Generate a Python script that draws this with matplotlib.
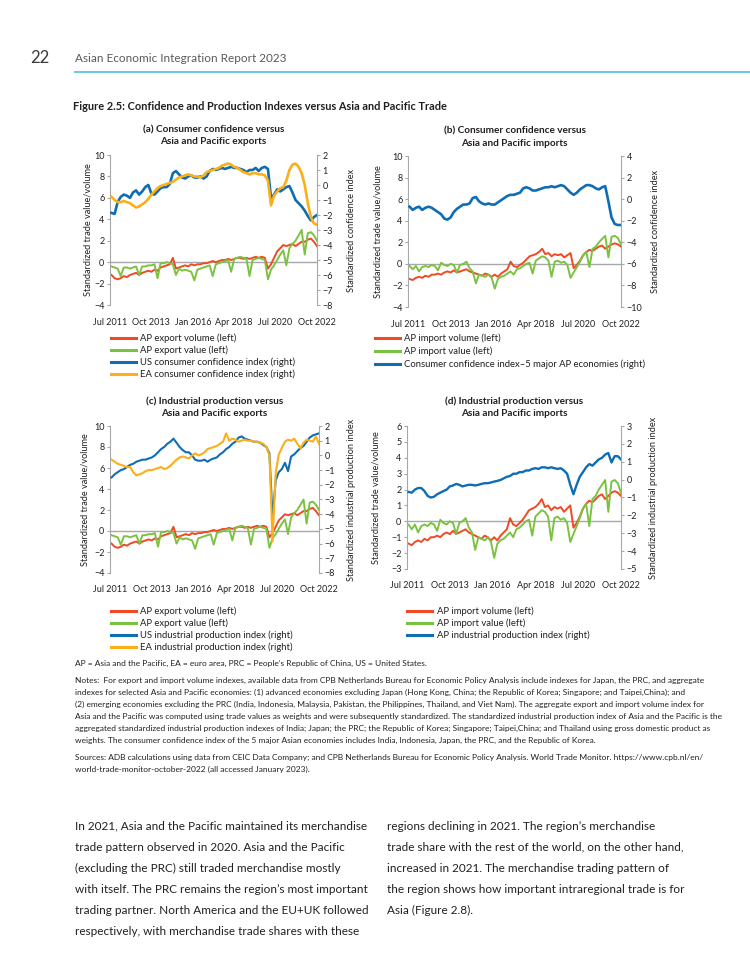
import numpy as np
import matplotlib.pyplot as plt
from matplotlib.lines import Line2D

plt.rcParams['font.family'] = ['Lato', 'DejaVu Sans']

W, H = 750, 971

# --- data: every second month since Jul 2011 (Aug 2011 ... Oct 2022) ---
months = np.arange(1, 136, 2)
tick_pos = [0, 27, 54, 81, 108, 135]
tick_labels = ["Jul 2011", "Oct 2013", "Jan 2016", "Apr 2018", "Jul 2020", "Oct 2022"]

ap_export_volume = [
    -1.2, -1.5, -1.6, -1.5, -1.3, -1.4, -1.2, -1.1, -1.0, -1.2,
    -1.0, -0.9, -0.8, -0.9, -0.7, -0.8, -0.5, -0.4, -0.3, -0.2,
    0.4, -0.6, -0.5, -0.4, -0.3, -0.4, -0.2, -0.3, -0.2, -0.2,
    -0.1, -0.1, 0.0, 0.1, 0.0, 0.1, 0.2, 0.2, 0.3, 0.2,
    0.3, 0.4, 0.4, 0.3, 0.4, 0.3, 0.4, 0.5, 0.4, 0.5,
    0.4, -0.6, -0.2, 0.4, 1.0, 1.3, 1.6, 1.5, 1.6, 1.7,
    1.5, 1.7, 1.9, 1.9, 2.1, 2.2, 1.9, 1.5]
ap_export_value = [
    -0.4, -0.5, -0.6, -1.3, -0.5, -0.5, -0.6, -0.5, -0.4, -1.2,
    -0.4, -0.4, -0.3, -0.3, -0.2, -1.5, -0.1, -0.1, 0.0, -0.1,
    -0.2, -1.2, -0.6, -0.8, -0.7, -0.8, -0.9, -1.7, -0.7, -0.6,
    -0.5, -0.4, -0.3, -1.3, -0.2, -0.1, 0.0, 0.1, 0.2, -0.9,
    0.3, 0.4, 0.5, 0.4, 0.3, -1.3, 0.2, 0.3, 0.4, 0.3,
    0.2, -1.6, -0.7, -0.3, 0.2, 0.7, 1.1, -0.3, 1.3, 1.7,
    2.0, 2.5, 3.0, 0.7, 2.7, 2.8, 2.5, 2.0]
ap_import_volume = [
    -1.4, -1.5, -1.3, -1.2, -1.3, -1.1, -1.2, -1.0, -1.0, -0.9,
    -1.0, -0.8, -0.7, -0.8, -0.6, -0.8, -0.7, -0.6, -0.5, -0.7,
    -0.8, -0.9, -1.0, -1.1, -0.9, -1.0, -1.2, -1.0, -1.2, -0.9,
    -0.7, -0.5, 0.2, -0.2, -0.3, -0.1, 0.1, 0.4, 0.7, 0.8,
    0.9, 1.1, 1.4, 0.9, 1.0, 0.7, 0.9, 0.8, 0.9, 0.6,
    0.8, 1.0, -0.4, -0.1, 0.3, 0.8, 1.1, 1.3, 1.2, 1.4,
    1.6, 1.7, 1.4, 1.6, 1.8, 1.9, 1.8, 1.6]
ap_import_value = [
    -0.2, -0.5, -0.2, -0.7, -0.3, -0.2, -0.3, -0.1, -0.2, -0.6,
    0.1, -0.1, -0.2, 0.0, -0.1, -0.8, -0.1, 0.0, 0.2, -0.4,
    -0.7, -1.8, -1.0, -1.1, -1.2, -1.0, -1.3, -2.3, -1.4, -1.2,
    -1.1, -0.9, -0.7, -1.0, -0.5, -0.4, -0.2, 0.0, 0.1, -0.9,
    0.3, 0.5, 0.7, 0.6, 0.3, -1.2, 0.2, 0.3, 0.1, 0.2,
    -0.1, -1.3, -0.8, -0.3, 0.2, 0.8, 1.1, -0.3, 1.4, 1.6,
    2.0, 2.3, 2.6, 0.6, 2.5, 2.6, 2.4, 1.8]

us_confidence = [
    -1.86, -1.93, -1.14, -0.79, -0.64, -0.71, -0.86, -0.50, -0.36, -0.64,
    -0.43, -0.14, 0.00, -0.57, -0.64, -0.43, -0.21, -0.14, -0.14, 0.07,
    0.79, 0.93, 0.71, 0.50, 0.43, 0.57, 0.64, 0.50, 0.50, 0.57,
    0.43, 0.57, 0.93, 1.07, 1.00, 1.07, 1.14, 1.07, 1.14, 1.21,
    1.14, 1.14, 1.07, 1.00, 0.86, 1.00, 1.00, 1.14, 0.93, 1.14,
    1.21, 1.07, -0.86, -0.64, -0.29, -0.43, -0.29, -0.14, -0.07, -0.50,
    -1.00, -1.21, -1.43, -1.71, -2.07, -2.36, -2.14, -2.00]
ea_confidence = [
    -0.79, -1.00, -1.14, -1.14, -1.07, -1.14, -1.21, -1.36, -1.50, -1.43,
    -1.29, -1.14, -0.93, -0.64, -0.43, -0.21, -0.07, 0.00, 0.07, 0.14,
    0.21, 0.36, 0.50, 0.57, 0.64, 0.71, 0.64, 0.57, 0.57, 0.50,
    0.64, 0.86, 0.93, 1.00, 1.07, 1.14, 1.29, 1.36, 1.43, 1.36,
    1.21, 1.14, 1.00, 0.86, 0.79, 0.71, 0.79, 0.79, 0.71, 0.71,
    0.64, 0.29, -1.36, -0.71, -0.43, -0.21, -0.14, 0.29, 1.00, 1.36,
    1.43, 1.21, 0.79, 0.00, -1.21, -2.14, -2.57, -2.64]
ap_confidence = [
    -0.7, -1.0, -0.8, -0.7, -1.0, -0.8, -0.7, -0.8, -1.0, -1.2,
    -1.4, -1.8, -1.9, -1.7, -1.2, -0.9, -0.7, -0.5, -0.5, -0.4,
    0.1, 0.2, -0.2, -0.4, -0.5, -0.4, -0.5, -0.5, -0.3, -0.1,
    0.1, 0.3, 0.4, 0.4, 0.5, 0.6, 1.0, 1.1, 1.0, 0.8,
    0.8, 0.9, 1.0, 1.1, 1.1, 1.2, 1.1, 1.2, 1.3, 1.2,
    0.9, 0.6, 0.4, 0.6, 0.9, 1.1, 1.3, 1.3, 1.2, 1.0,
    0.9, 1.1, 1.2, -0.2, -1.7, -2.3, -2.4, -2.4]

us_ip = [
    -1.50, -1.29, -1.14, -1.00, -0.93, -0.79, -0.64, -0.57, -0.43, -0.36,
    -0.29, -0.29, -0.21, -0.14, 0.00, 0.21, 0.43, 0.57, 0.79, 0.93,
    1.14, 0.86, 0.57, 0.36, 0.21, 0.21, 0.00, -0.29, -0.36, -0.36,
    -0.29, -0.43, -0.29, -0.21, -0.14, 0.07, 0.21, 0.43, 0.57, 0.79,
    0.93, 1.21, 1.29, 1.14, 1.07, 1.00, 0.93, 0.93, 0.86, 0.71,
    0.57, 0.14, -4.29, -1.71, -1.14, -0.93, -0.50, -1.07, -0.07, 0.07,
    0.29, 0.50, 0.64, 0.93, 1.21, 1.36, 1.43, 1.50]
ea_ip = [
    -0.29, -0.43, -0.57, -0.64, -0.71, -0.79, -0.79, -1.14, -1.36, -1.29,
    -1.21, -1.07, -1.00, -1.00, -0.93, -0.86, -0.79, -0.93, -0.86, -0.71,
    -0.50, -0.29, -0.14, -0.07, -0.14, -0.21, 0.00, 0.14, 0.00, 0.07,
    0.21, 0.43, 0.50, 0.57, 0.64, 0.79, 0.93, 1.50, 1.00, 1.14,
    1.07, 0.93, 1.00, 1.07, 1.00, 1.00, 0.93, 0.93, 0.86, 0.79,
    0.57, 0.00, -5.86, -1.21, 0.07, 0.50, 0.93, 1.07, 1.00, 1.14,
    0.79, 0.50, 0.86, 1.07, 1.00, 0.93, 1.29, 0.79]
ap_ip = [
    -0.69, -0.73, -0.56, -0.47, -0.47, -0.64, -0.91, -1.00, -0.96, -0.82,
    -0.73, -0.64, -0.56, -0.38, -0.33, -0.24, -0.29, -0.38, -0.33, -0.29,
    -0.29, -0.33, -0.29, -0.24, -0.20, -0.20, -0.16, -0.11, -0.07, -0.02,
    0.07, 0.16, 0.20, 0.33, 0.33, 0.42, 0.42, 0.51, 0.51, 0.60,
    0.64, 0.60, 0.69, 0.69, 0.64, 0.69, 0.64, 0.60, 0.64, 0.51,
    0.33, -0.29, -0.82, -0.29, 0.16, 0.42, 0.69, 0.87, 0.78, 0.96,
    1.13, 1.22, 1.40, 1.49, 0.96, 1.31, 1.31, 1.13]

# --- styles ---
RED = "#ef4a24"
GREEN = "#7cc242"
BLUE = "#0e6db5"
ORANGE = "#fbaf18"
GRAY = "#a6a8ab"
TXT = "#231f20"

fig = plt.figure(figsize=(W / 100, H / 100), dpi=100)
fig.patch.set_facecolor("white")
renderer = fig.canvas.get_renderer()


def fx(x):
    return x / W


def fy(y):
    return 1 - y / H


def fit(s, width, weight="normal"):
    # font size that makes s about `width` pixels wide
    t = fig.text(0, 0, s, fontsize=10, fontweight=weight)
    w = t.get_window_extent(renderer).width
    t.remove()
    return 10 * width / w


tick_fs = fit("Oct 2022", 38)
ylab_fs = fit("Standardized trade value/volume", 133)
title_fs = fit("(a) Consumer confidence versus", 142, "bold")
leg_fs = fit("US consumer confidence index (right)", 157)


def draw_panel(box, title, left, right, lim_l, step_l, lim_r, step_r,
               ylab_l, ylab_r, lab_x, legend, lw_r):
    l, t, r, b = box
    ax = fig.add_axes([fx(l), fy(b), (r - l) / W, (b - t) / H])
    ax2 = ax.twinx()

    ax.axhline(0, color=GRAY, lw=1.0, zorder=1)
    for vals, col in left:
        ax.plot(months, vals, color=col, lw=1.4, zorder=2)
    for vals, col in right:
        ax2.plot(months, vals, color=col, lw=lw_r, zorder=2)

    ax.set_xlim(0, 135)
    ax.set_ylim(*lim_l)
    ax.set_yticks(np.arange(lim_l[0], lim_l[1] + 0.1, step_l))
    ax2.set_ylim(*lim_r)
    ax2.set_yticks(np.arange(lim_r[0], lim_r[1] + 0.1, step_r))
    ax.set_xticks(tick_pos)
    ax.set_xticklabels(tick_labels)

    for a in (ax, ax2):
        for sp in a.spines.values():
            sp.set_visible(False)
        a.tick_params(axis="y", direction="out", length=2.5, width=0.8,
                      color=GRAY, labelsize=tick_fs, labelcolor=TXT, pad=1.5)
    ax.spines["left"].set_visible(True)
    ax.spines["left"].set_color(GRAY)
    ax2.spines["right"].set_visible(True)
    ax2.spines["right"].set_color(GRAY)
    ax.tick_params(axis="x", length=0, labelsize=tick_fs, labelcolor=TXT, pad=9)

    cx = (l + r) / 2
    cy = (t + b) / 2
    for i, line in enumerate(title):
        fig.text(fx(cx), fy(t - 25 + 12 * i), line, fontsize=title_fs,
                 fontweight="bold", color=TXT, ha="center", va="center")
    fig.text(fx(lab_x[0]), fy(cy), ylab_l, rotation=90, fontsize=ylab_fs,
             color=TXT, ha="center", va="center")
    fig.text(fx(lab_x[1]), fy(cy), ylab_r, rotation=90, fontsize=ylab_fs,
             color=TXT, ha="center", va="center")

    x0, x1, tx, ys = legend["pos"]
    for (lab, col), yy in zip(legend["items"], ys):
        fig.add_artist(Line2D([fx(x0), fx(x1)], [fy(yy), fy(yy)], color=col, lw=2.2))
        fig.text(fx(tx), fy(yy), lab, fontsize=leg_fs, color=TXT,
                 ha="left", va="center")
    return ax


draw_panel((110, 155, 317, 305),
           ["(a) Consumer confidence versus", "Asia and Pacific exports"],
           [(ap_export_volume, RED), (ap_export_value, GREEN)],
           [(us_confidence, BLUE), (ea_confidence, ORANGE)],
           (-4, 10), 2, (-8, 2), 1,
           "Standardized trade value/volume", "Standardized confidence index",
           (88, 352),
           {"pos": (111, 136, 140, [338, 350, 362, 374]),
            "items": [("AP export volume (left)", RED),
                      ("AP export value (left)", GREEN),
                      ("US consumer confidence index (right)", BLUE),
                      ("EA consumer confidence index (right)", ORANGE)]},
           1.9)

draw_panel((408, 156, 621, 307),
           ["(b) Consumer confidence versus", "Asia and Pacific imports"],
           [(ap_import_volume, RED), (ap_import_value, GREEN)],
           [(ap_confidence, BLUE)],
           (-4, 10), 2, (-10, 4), 2,
           "Standardized trade value/volume", "Standardized confidence index",
           (378, 656),
           {"pos": (375, 400, 404, [338, 351, 364]),
            "items": [("AP import volume (left)", RED),
                      ("AP import value (left)", GREEN),
                      ("Consumer confidence index\u20135 major AP economies (right)", BLUE)]},
           1.9)

draw_panel((110, 426, 319, 573),
           ["(c) Industrial production versus", "Asia and Pacific exports"],
           [(ap_export_volume, RED), (ap_export_value, GREEN)],
           [(us_ip, BLUE), (ea_ip, ORANGE)],
           (-4, 10), 2, (-8, 2), 1,
           "Standardized trade value/volume", "Standardized industrial production index",
           (85, 352),
           {"pos": (111, 136, 140, [611, 623, 635, 647]),
            "items": [("AP export volume (left)", RED),
                      ("AP export value (left)", GREEN),
                      ("US industrial production index (right)", BLUE),
                      ("EA industrial production index (right)", ORANGE)]},
           1.5)

draw_panel((407, 426, 621, 569),
           ["(d) Industrial production versus", "Asia and Pacific imports"],
           [(ap_import_volume, RED), (ap_import_value, GREEN)],
           [(ap_ip, BLUE)],
           (-3, 6), 1, (-5, 3), 1,
           "Standardized trade value/volume", "Standardized industrial production index",
           (376, 653),
           {"pos": (407, 432, 437, [611, 623, 635]),
            "items": [("AP import volume (left)", RED),
                      ("AP import value (left)", GREEN),
                      ("AP industrial production index (right)", BLUE)]},
           1.7)

# --- page header and figure title ---
fig.text(fx(30), fy(58), "22", fontsize=12, color="#3a3a3a", ha="left", va="center")
head = "Asian Economic Integration Report 2023"
fig.text(fx(75), fy(58), head, fontsize=fit(head, 210), color="#5a5a5a",
         ha="left", va="center")
fig.add_artist(Line2D([fx(75), fx(750)], [fy(72), fy(72)], color="#5bc3e8", lw=1.3))

ftitle = "Figure 2.5: Confidence and Production Indexes versus Asia and Pacific Trade"
fig.text(fx(73), fy(107), ftitle, fontsize=fit(ftitle, 374, "bold"),
         fontweight="bold", color=TXT, ha="left", va="center")

# --- notes ---
notes = [
    "Notes:  For export and import volume indexes, available data from CPB Netherlands Bureau for Economic Policy Analysis include indexes for Japan, the PRC, and aggregate",
    "indexes for selected Asia and Pacific economies: (1) advanced economies excluding Japan (Hong Kong, China; the Republic of Korea; Singapore; and Taipei,China); and",
    "(2) emerging economies excluding the PRC (India, Indonesia, Malaysia, Pakistan, the Philippines, Thailand, and Viet Nam). The aggregate export and import volume index for",
    "Asia and the Pacific was computed using trade values as weights and were subsequently standardized. The standardized industrial production index of Asia and the Pacific is the",
    "aggregated standardized industrial production indexes of India; Japan; the PRC; the Republic of Korea; Singapore; Taipei,China; and Thailand using gross domestic product as",
    "weights. The consumer confidence index of the 5 major Asian economies includes India, Indonesia, Japan, the PRC, and the Republic of Korea.",
]
notes_fs = fit(notes[0], 627)
fig.text(fx(75), fy(663),
         "AP = Asia and the Pacific, EA = euro area, PRC = People\u2019s Republic of China, US = United States.",
         fontsize=notes_fs, color=TXT, ha="left", va="center")
for i, line in enumerate(notes):
    fig.text(fx(75), fy(680 + 12 * i), line, fontsize=notes_fs, color=TXT,
             ha="left", va="center")
sources = [
    "Sources: ADB calculations using data from CEIC Data Company; and CPB Netherlands Bureau for Economic Policy Analysis. World Trade Monitor. https://www.cpb.nl/en/",
    "world-trade-monitor-october-2022 (all accessed January 2023).",
]
for i, line in enumerate(sources):
    fig.text(fx(75), fy(757 + 12 * i), line, fontsize=notes_fs, color=TXT,
             ha="left", va="center")

# --- body text ---
body_left = [
    "In 2021, Asia and the Pacific maintained its merchandise",
    "trade pattern observed in 2020. Asia and the Pacific",
    "(excluding the PRC) still traded merchandise mostly",
    "with itself. The PRC remains the region\u2019s most important",
    "trading partner. North America and the EU+UK followed",
    "respectively, with merchandise trade shares with these",
]
body_right = [
    "regions declining in 2021. The region\u2019s merchandise",
    "trade share with the rest of the world, on the other hand,",
    "increased in 2021. The merchandise trading pattern of",
    "the region shows how important intraregional trade is for",
    "Asia (Figure 2.8).",
]
body_fs = fit(body_left[0], 290)
for i, line in enumerate(body_left):
    fig.text(fx(75), fy(826 + 21 * i), line, fontsize=body_fs, color=TXT,
             ha="left", va="center")
for i, line in enumerate(body_right):
    fig.text(fx(387), fy(826 + 21 * i), line, fontsize=body_fs, color=TXT,
             ha="left", va="center")

fig.savefig("out.png", dpi=100, facecolor="white")
